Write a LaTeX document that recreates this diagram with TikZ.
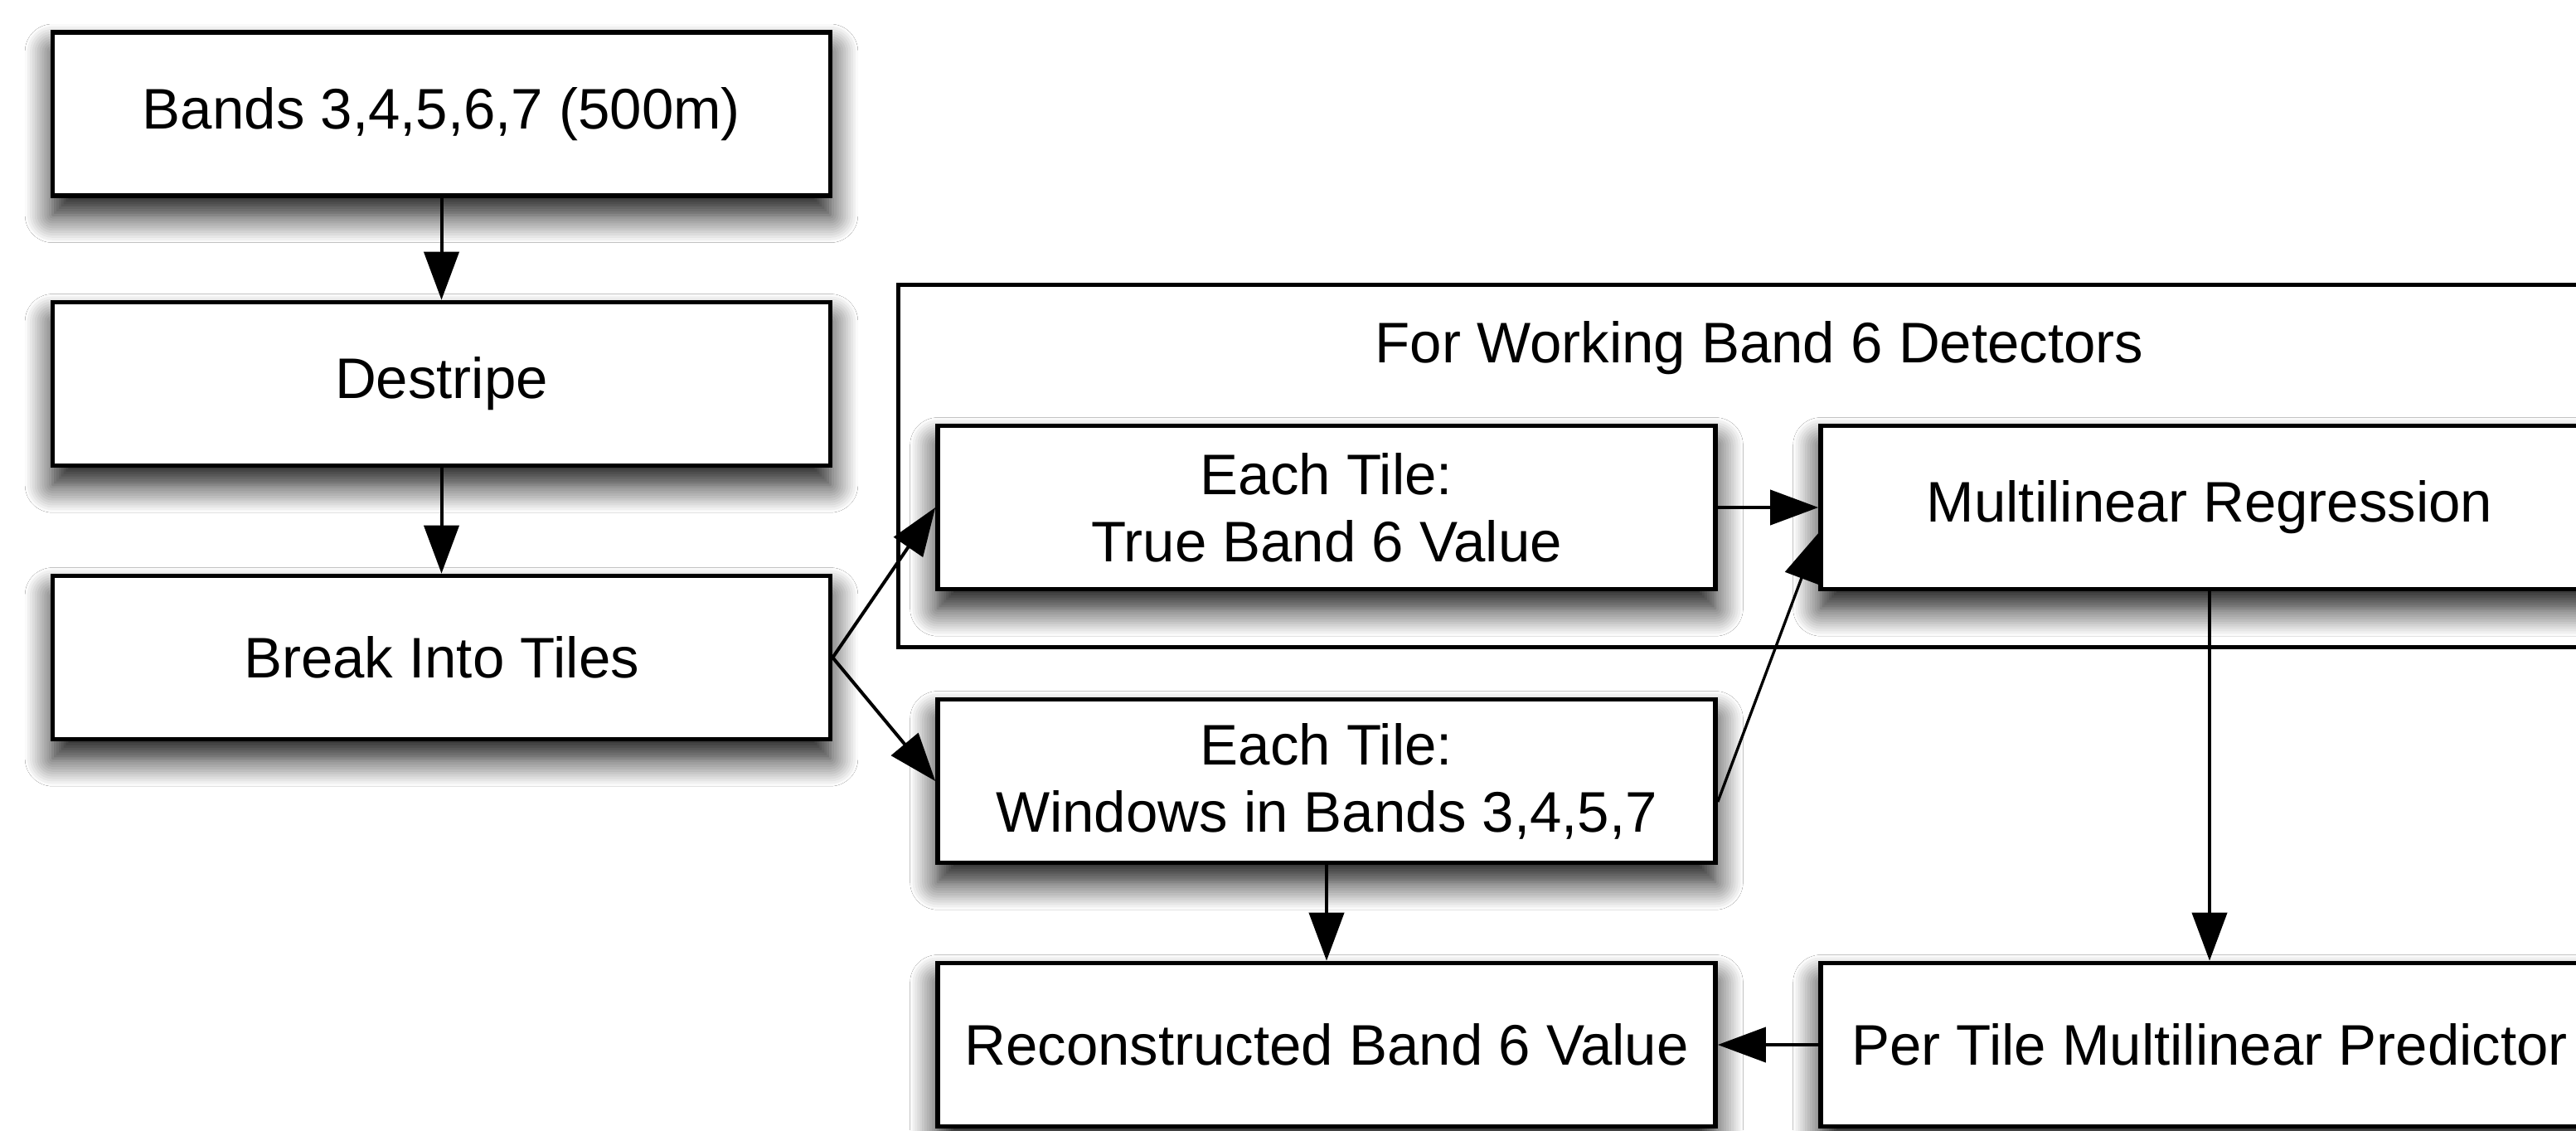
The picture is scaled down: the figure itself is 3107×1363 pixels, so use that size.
\documentclass[tikz,border=0pt]{standalone}
\usepackage{fontspec}
\setmainfont{Liberation Sans}
\usetikzlibrary{arrows.meta,shadows.blur}

\tikzset{
  procbox/.style={draw=black, fill=white, line width=1.7pt, inner sep=0pt,
    minimum width=281.4pt, minimum height=59.1pt, align=center,
    font=\fontsize{20.7pt}{24.3pt}\selectfont,
    blur shadow={shadow xshift=0pt, shadow yshift=-7pt,
      shadow blur radius=10pt, shadow blur steps=12, shadow opacity=95}},
  groupbox/.style={draw=black, line width=1.5pt, inner sep=0pt,
    minimum width=623.1pt, minimum height=131.1pt},
  grouptitle/.style={inner sep=0pt, font=\fontsize{20.7pt}{24.3pt}\selectfont},
  flow/.style={line width=1.2pt, -{Triangle[length=17.4pt,width=12.6pt]}},
  thinflow/.style={flow, line width=1pt}
}

\begin{document}
\begin{tikzpicture}[x=0.3pt, y=-0.3pt]
  \useasboundingbox (0,0) rectangle (3107,1363);
  \clip (0,0) rectangle (3107,1363);
  \fill[white] (0,0) rectangle (3107,1363);

  % frame around the per-detector steps
  \node[groupbox] (grp) at (2121.5,561.5) {};
  \node[grouptitle] (grptitle) at (2122,420) {For Working Band 6 Detectors};

  % left column
  \node[procbox] (bands) at (532.5,137.5) {Bands 3,4,5,6,7 (500m)};
  \node[procbox] (destripe) at (532.5,463) {Destripe};
  \node[procbox] (tiles) at (532.5,793) {Break Into Tiles};

  % middle column
  \node[procbox] (truev) at (1600,612) {Each Tile:\\True Band 6 Value};
  \node[procbox] (windows) at (1600,942) {Each Tile:\\Windows in Bands 3,4,5,7};
  \node[procbox] (recon) at (1600,1260) {Reconstructed Band 6 Value};

  % right column
  \node[procbox] (regress) at (2665,612) {Multilinear Regression};
  \node[procbox] (predict) at (2665,1260) {Per Tile Multilinear Predictor};

  % connectors
  \draw[flow] (bands.south) -- (destripe.north);
  \draw[flow] (destripe.south) -- (tiles.north);
  \draw[flow] (tiles.east) -- (truev.west);
  \draw[flow] (tiles.east) -- (windows.west);
  \draw[flow] (truev.east) -- (regress.west);
  \draw[thinflow] ([yshift=-7.5pt]windows.east) -- ([yshift=-9.3pt]regress.west);
  \draw[flow] (windows.south) -- (recon.north);
  \draw[flow] (regress.south) -- (predict.north);
  \draw[flow] (predict.west) -- (recon.east);
\end{tikzpicture}
\end{document}
